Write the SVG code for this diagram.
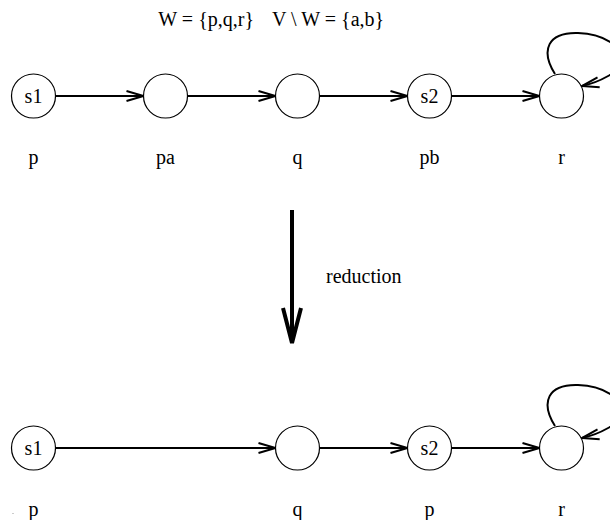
<svg xmlns="http://www.w3.org/2000/svg" width="610" height="520" viewBox="0 0 610 520">
<style>
.node{fill:#fff;stroke:#000;stroke-width:1.2}
.t{font-family:'Liberation Serif','DejaVu Serif','Times New Roman',serif;font-size:20px;fill:#000}
.c{text-anchor:middle}
.e{text-anchor:end}
.edge{fill:none;stroke:#000;stroke-width:2}
</style>
<defs>
<marker id="ah" markerUnits="userSpaceOnUse" markerWidth="24" markerHeight="14" viewBox="-21 -7 24 14" refX="0" refY="0" orient="auto" overflow="visible">
<path d="M -17 -5 L 0 0 L -17 5" fill="none" stroke="#000" stroke-width="2"/>
</marker>
</defs>
<rect width="610" height="520" fill="#fff"/>
<g id="title">
<text class="t e" x="254" y="26" font-family="Liberation Serif, serif">W = {p,q,r}</text>
<text class="t" x="272" y="26" font-family="Liberation Serif, serif">V \ W = {a,b}</text>
</g>
<g id="connectors">
<line class="edge" x1="55.5" y1="96" x2="143.5" y2="96" marker-end="url(#ah)"/>
<line class="edge" x1="187.5" y1="96" x2="275.5" y2="96" marker-end="url(#ah)"/>
<line class="edge" x1="319.5" y1="96" x2="407.5" y2="96" marker-end="url(#ah)"/>
<line class="edge" x1="451.5" y1="96" x2="539.5" y2="96" marker-end="url(#ah)"/>
<path class="edge" d="M 555 74 C 540 50, 548 32, 578 33 C 605 34, 625 48, 622 62 C 619 72, 600 82, 582 86" marker-end="url(#ah)"/>
<line class="edge" x1="55.5" y1="448" x2="275.5" y2="448" marker-end="url(#ah)"/>
<line class="edge" x1="319.5" y1="448" x2="407.5" y2="448" marker-end="url(#ah)"/>
<line class="edge" x1="451.5" y1="448" x2="539.5" y2="448" marker-end="url(#ah)"/>
<path class="edge" d="M 555 426 C 540 402, 548 384, 578 385 C 605 386, 625 400, 622 414 C 619 424, 600 434, 582 438" marker-end="url(#ah)"/>
</g>
<g id="reduction">
<line x1="292" y1="210" x2="292" y2="340" stroke="#000" stroke-width="4"/>
<polyline points="283,308 292,343 301,308" fill="none" stroke="#000" stroke-width="4" stroke-linejoin="miter"/>
<text class="t" x="326" y="283" font-family="Liberation Serif, serif">reduction</text>
</g>
<g id="top-s1"><circle class="node" cx="33.5" cy="96" r="22"/><text class="t c" x="33.5" y="103" font-family="Liberation Serif, serif">s1</text><text class="t c" x="33.5" y="164" font-family="Liberation Serif, serif">p</text></g>
<g id="top-pa"><circle class="node" cx="165.5" cy="96" r="22"/><text class="t c" x="165.5" y="164" font-family="Liberation Serif, serif">pa</text></g>
<g id="top-q"><circle class="node" cx="297.5" cy="96" r="22"/><text class="t c" x="297.5" y="164" font-family="Liberation Serif, serif">q</text></g>
<g id="top-s2"><circle class="node" cx="429.5" cy="96" r="22"/><text class="t c" x="429.5" y="103" font-family="Liberation Serif, serif">s2</text><text class="t c" x="429.5" y="164" font-family="Liberation Serif, serif">pb</text></g>
<g id="top-r"><circle class="node" cx="561.5" cy="96" r="22"/><text class="t c" x="561.5" y="164" font-family="Liberation Serif, serif">r</text></g>
<g id="bot-s1"><circle class="node" cx="33.5" cy="448" r="22"/><text class="t c" x="33.5" y="455" font-family="Liberation Serif, serif">s1</text><text class="t c" x="33.5" y="516" font-family="Liberation Serif, serif">p</text></g>
<g id="bot-q"><circle class="node" cx="297.5" cy="448" r="22"/><text class="t c" x="297.5" y="516" font-family="Liberation Serif, serif">q</text></g>
<g id="bot-s2"><circle class="node" cx="429.5" cy="448" r="22"/><text class="t c" x="429.5" y="455" font-family="Liberation Serif, serif">s2</text><text class="t c" x="429.5" y="516" font-family="Liberation Serif, serif">p</text></g>
<g id="bot-r"><circle class="node" cx="561.5" cy="448" r="22"/><text class="t c" x="561.5" y="516" font-family="Liberation Serif, serif">r</text></g>
<rect x="12.5" y="513" width="1" height="1" fill="#999"/>
</svg>
